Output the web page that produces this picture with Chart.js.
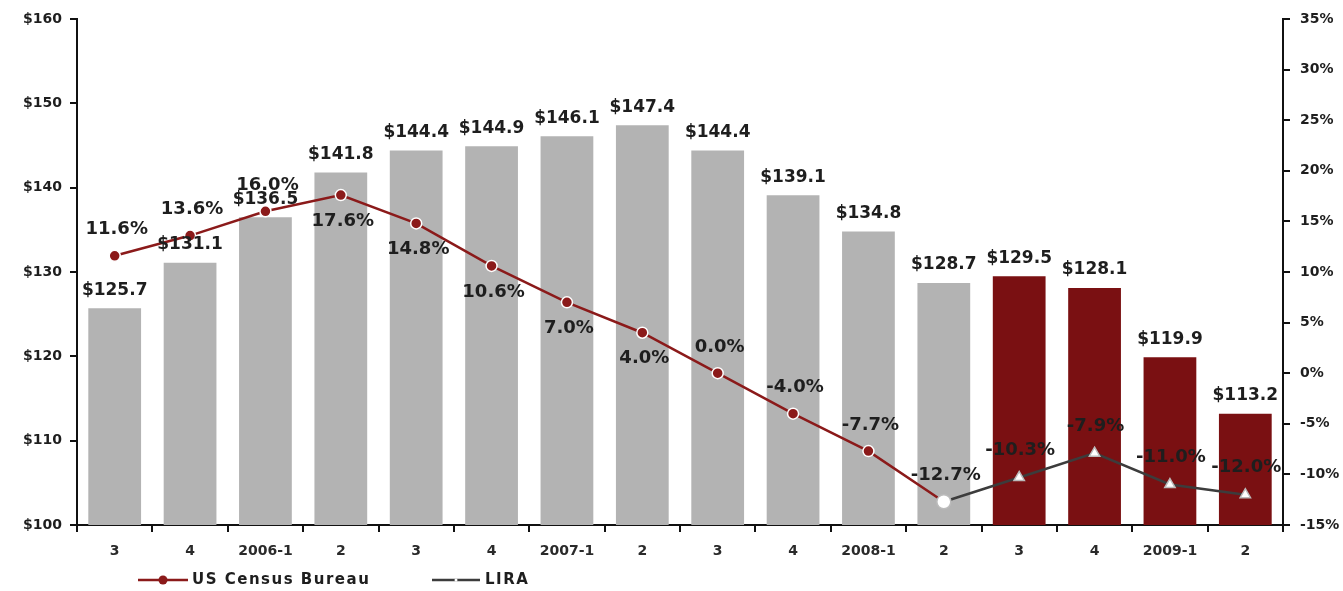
<!DOCTYPE html>
<html>
<head>
<meta charset="utf-8">
<title>Home price index and growth</title>
<script src="https://cdn.jsdelivr.net/npm/chart.js@4.4.1/dist/chart.umd.min.js"></script>
<style>
  html, body { margin: 0; padding: 0; background: #fff; }
  #wrap { width: 1343px; height: 591px; }
</style>
</head>
<body>
<div id="wrap"><canvas id="chart" width="1343" height="591"></canvas></div>
<script>
// quarters, 2005 Q3 through 2009 Q2
const quarters = ['3', '4', '2006-1', '2', '3', '4', '2007-1', '2', '3', '4', '2008-1', '2', '3', '4', '2009-1', '2'];

// bar values ($ billions)
const spending = [125.7, 131.1, 136.5, 141.8, 144.4, 144.9, 146.1, 147.4, 144.4, 139.1, 134.8, 128.7, 129.5, 128.1, 119.9, 113.2];

// growth rates (%)
const censusGrowth = [11.6, 13.6, 16.0, 17.6, 14.8, 10.6, 7.0, 4.0, 0.0, -4.0, -7.7, -12.7, null, null, null, null];
const liraGrowth = [null, null, null, null, null, null, null, null, null, null, null, -12.7, -10.3, -7.9, -11.0, -12.0];

// first projected quarter (red bars)
const projectedFrom = 12;

// where the census labels sit relative to their points
const censusLabelSide = [-1, -1, -1, 1, 1, 1, 1, 1, -1, -1, -1, -1];

const GRAY = '#b3b3b3';
const RED = '#7a1012';
const LINE_RED = '#8b1a1a';
const LINE_GRAY = '#3c3c3c';
const FONT = '"DejaVu Sans", Verdana, sans-serif';

const labelPlugin = {
  id: 'valueLabels',
  afterDatasetsDraw(chart) {
    const ctx = chart.ctx;
    ctx.save();
    ctx.fillStyle = '#1e1e1e';
    ctx.textAlign = 'center';
    ctx.textBaseline = 'middle';
    ctx.font = 'bold 17px ' + FONT;

    chart.getDatasetMeta(0).data.forEach((bar, i) => {
      ctx.fillText('$' + spending[i].toFixed(1), bar.x, bar.y - 18);
    });

    ctx.font = 'bold 18px ' + FONT;
    chart.getDatasetMeta(1).data.forEach((pt, i) => {
      if (censusGrowth[i] === null) return;
      const side = censusLabelSide[i];
      ctx.fillText(censusGrowth[i].toFixed(1) + '%', pt.x + 2, pt.y + side * 26);
    });

    chart.getDatasetMeta(2).data.forEach((pt, i) => {
      if (liraGrowth[i] === null || i < projectedFrom) return;
      ctx.fillText(liraGrowth[i].toFixed(1) + '%', pt.x + 1, pt.y - 27);
    });
    ctx.restore();
  },
  afterDraw(chart) {
    // legend for the two lines only
    const ctx = chart.ctx;
    const y = 580;
    ctx.save();
    ctx.lineWidth = 2.5;
    ctx.strokeStyle = LINE_RED;
    ctx.beginPath(); ctx.moveTo(138, y); ctx.lineTo(188, y); ctx.stroke();
    ctx.fillStyle = LINE_RED;
    ctx.beginPath(); ctx.arc(163, y, 4.5, 0, Math.PI * 2); ctx.fill();

    ctx.strokeStyle = LINE_GRAY;
    ctx.beginPath(); ctx.moveTo(432, y); ctx.lineTo(480, y); ctx.stroke();
    ctx.fillStyle = '#fff';
    ctx.beginPath(); ctx.arc(456, y, 1.5, 0, Math.PI * 2); ctx.fill();

    ctx.fillStyle = '#1e1e1e';
    ctx.font = 'bold 15px ' + FONT;
    ctx.textAlign = 'left';
    ctx.textBaseline = 'middle';
    if ('letterSpacing' in ctx) ctx.letterSpacing = '1.5px';
    ctx.fillText('US Census Bureau', 192, y);
    ctx.fillText('LIRA', 485, y);
    ctx.restore();
  }
};

const chart = new Chart(document.getElementById('chart'), {
  type: 'bar',
  data: {
    labels: quarters,
    datasets: [
      {
        label: 'Spending',
        data: spending,
        yAxisID: 'y',
        order: 3,
        backgroundColor: ctx => ctx.dataIndex >= projectedFrom ? RED : GRAY,
        barPercentage: 0.7,
        categoryPercentage: 1
      },
      {
        type: 'line',
        label: 'US Census Bureau',
        data: censusGrowth,
        yAxisID: 'y1',
        order: 2,
        borderColor: LINE_RED,
        borderWidth: 2.5,
        pointRadius: 5.5,
        pointBackgroundColor: LINE_RED,
        pointBorderColor: '#fff',
        pointBorderWidth: 1.5,
        tension: 0
      },
      {
        type: 'line',
        label: 'LIRA',
        data: liraGrowth,
        yAxisID: 'y1',
        order: 1,
        borderColor: LINE_GRAY,
        borderWidth: 2.5,
        pointStyle: ctx => ctx.dataIndex < projectedFrom ? 'circle' : 'triangle',
        pointRadius: ctx => ctx.dataIndex < projectedFrom ? 7 : 6,
        pointBackgroundColor: '#fff',
        pointBorderColor: '#bbbbbb',
        pointBorderWidth: 1.5,
        tension: 0
      }
    ]
  },
  options: {
    responsive: false,
    animation: false,
    layout: { padding: { top: 19, left: 0, right: 0, bottom: 0 } },
    plugins: {
      legend: { display: false },
      tooltip: { enabled: false }
    },
    scales: {
      x: {
        offset: true,
        grid: { offset: true, drawOnChartArea: false, drawTicks: true, tickLength: 7, color: '#111', lineWidth: 2 },
        border: { color: '#111', width: 2 },
        ticks: { color: '#2a2a2a', font: { family: FONT, weight: 'bold', size: 14 }, padding: 11, maxRotation: 0, autoSkip: false },
        afterFit: s => { s.height = 66; }
      },
      y: {
        position: 'left',
        min: 100,
        max: 160,
        grid: { drawOnChartArea: false, drawTicks: true, tickLength: 7, color: '#111', lineWidth: 2 },
        border: { color: '#111', width: 2 },
        ticks: { stepSize: 10, color: '#1e1e1e', font: { family: FONT, weight: 'bold', size: 14 }, padding: 8, callback: v => '$' + v },
        afterFit: s => { s.width = 77; }
      },
      y1: {
        position: 'right',
        min: -15,
        max: 35,
        grid: { drawOnChartArea: false, drawTicks: true, tickLength: 7, color: '#111', lineWidth: 2 },
        border: { color: '#111', width: 2 },
        ticks: { stepSize: 5, color: '#1e1e1e', font: { family: FONT, weight: 'bold', size: 14 }, padding: 10, callback: v => v + '%' },
        afterFit: s => { s.width = 60; }
      }
    }
  },
  plugins: [labelPlugin]
});
</script>
</body>
</html>
